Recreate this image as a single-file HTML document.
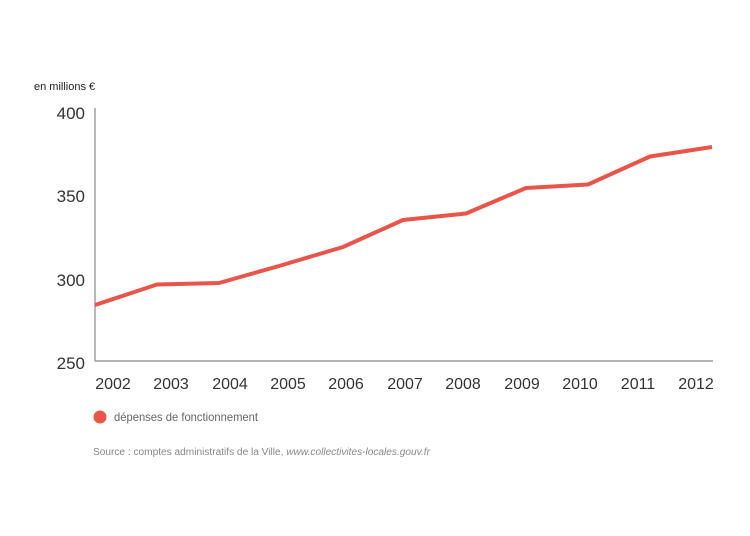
<!DOCTYPE html>
<html><head><meta charset="utf-8"><style>
html,body{margin:0;padding:0;background:#fff;}
svg{display:block;font-family:"Liberation Sans",sans-serif;}
</style></head><body>
<svg width="750" height="536" viewBox="0 0 750 536">
<text x="34" y="90" font-size="11" fill="#222">en millions €</text>
<g font-size="17" fill="#333" text-anchor="end">
<text x="85" y="119">400</text>
<text x="85" y="202">350</text>
<text x="85" y="286">300</text>
<text x="85" y="369">250</text>
</g>
<line x1="95" y1="108" x2="95" y2="361" stroke="#888" stroke-width="1.2"/>
<line x1="95" y1="361" x2="713" y2="361" stroke="#888" stroke-width="1.2"/>
<g font-size="16" fill="#333" text-anchor="middle">
<text x="113" y="389">2002</text><text x="171" y="389">2003</text><text x="230" y="389">2004</text>
<text x="288" y="389">2005</text><text x="346" y="389">2006</text><text x="405" y="389">2007</text>
<text x="463" y="389">2008</text><text x="522" y="389">2009</text><text x="580" y="389">2010</text>
<text x="638" y="389">2011</text><text x="696" y="389">2012</text>
</g>
<polyline fill="none" stroke="#e8554a" stroke-width="4" stroke-linejoin="round"
points="95,305 157,284.5 219,283 279,266 343,247 403,220 466,213.5 526,188 588,184.5 650,156.5 712,147"/>
<circle cx="100" cy="417" r="6.5" fill="#e8554a"/>
<text x="114" y="421" font-size="12" fill="#666" textLength="144" lengthAdjust="spacingAndGlyphs">dépenses de fonctionnement</text>
<text x="93" y="455" font-size="10" fill="#888" textLength="337" lengthAdjust="spacingAndGlyphs">Source : comptes administratifs de la Ville, <tspan font-style="italic">www.collectivites-locales.gouv.fr</tspan></text>
</svg>
</body></html>
